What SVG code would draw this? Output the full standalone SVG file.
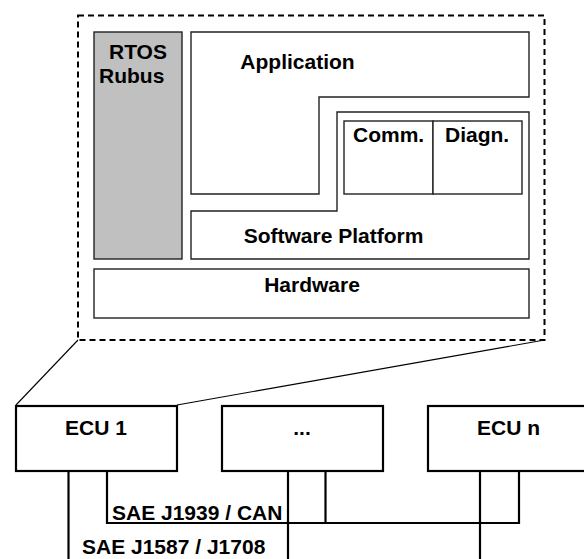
<svg xmlns="http://www.w3.org/2000/svg" width="584" height="559" viewBox="0 0 584 559">
  <style>
    text { font-family: "Liberation Sans", Arial, sans-serif; font-weight: bold; font-size: 21px; fill: #000; }
    .mid { text-anchor: middle; }
    .layer { fill: #fff; stroke: #222; stroke-width: 1.4; }
    .ecu { fill: #fff; stroke: #000; stroke-width: 2.2; }
    .bus { fill: none; stroke: #000; stroke-width: 2.2; }
    .zoomline { fill: none; stroke: #000; stroke-width: 1.1; }
  </style>
  <rect width="584" height="559" fill="#fff"/>

  <!-- expanded view of ECU 1 -->
  <g id="ecu-detail">
    <rect x="78" y="15.5" width="466.5" height="324.5" fill="none" stroke="#000" stroke-width="2" stroke-dasharray="6 4"/>
  </g>
  <g id="rtos">
    <rect x="94" y="32" width="88" height="227" fill="#c0c0c0" stroke="#222" stroke-width="1.4"/>
    <text x="109" y="59">RTOS</text>
    <text x="99" y="83">Rubus</text>
  </g>
  <g id="application">
    <path class="layer" d="M191,32 H529 V97 H319 V194 H191 Z"/>
    <text x="297.5" y="69" class="mid">Application</text>
  </g>
  <g id="software-platform">
    <path class="layer" d="M191,211 H337 V112 H529 V259 H191 Z"/>
    <text x="333.5" y="243" class="mid">Software Platform</text>
  </g>
  <g id="comm">
    <rect class="layer" x="344" y="121" width="89" height="73"/>
    <text x="353" y="142">Comm.</text>
  </g>
  <g id="diagn">
    <rect class="layer" x="433" y="121" width="89" height="73"/>
    <text x="445" y="142">Diagn.</text>
  </g>
  <g id="hardware">
    <rect class="layer" x="94" y="269" width="435" height="49"/>
    <text x="312" y="292" class="mid">Hardware</text>
  </g>

  <!-- ECUs on the vehicle networks -->
  <g id="ecu1">
    <rect class="ecu" x="16" y="406" width="161" height="65"/>
    <text x="96" y="435" class="mid">ECU 1</text>
  </g>
  <g id="ecu-more">
    <rect class="ecu" x="222" y="406" width="161" height="65"/>
    <text x="302" y="435" class="mid">...</text>
  </g>
  <g id="ecun">
    <rect class="ecu" x="428" y="406" width="161" height="65"/>
    <text x="508.5" y="435" class="mid">ECU n</text>
  </g>

  <g id="connectors">
    <!-- zoom lines from ECU 1 to its detail view -->
    <line class="zoomline" x1="16" y1="405" x2="78" y2="340"/>
    <line class="zoomline" x1="177" y1="405" x2="544.5" y2="340"/>
    <!-- SAE J1939 / CAN bus -->
    <path class="bus" d="M107,471 V523 H519 V471"/>
    <line class="bus" x1="325.5" y1="471" x2="325.5" y2="523"/>
    <!-- SAE J1587 / J1708 bus drops -->
    <line class="bus" x1="68.5" y1="471" x2="68.5" y2="559"/>
    <line class="bus" x1="288" y1="471" x2="288" y2="559"/>
    <line class="bus" x1="480" y1="471" x2="480" y2="559"/>
    <text x="112" y="520">SAE J1939 / CAN</text>
    <text x="82" y="554">SAE J1587 / J1708</text>
  </g>
</svg>
